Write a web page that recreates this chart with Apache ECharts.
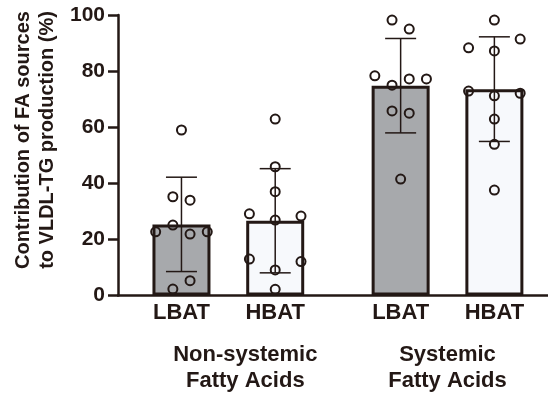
<!DOCTYPE html>
<html>
<head>
<meta charset="utf-8">
<script src="https://cdn.jsdelivr.net/npm/echarts@6/dist/echarts.min.js"></script>
<style>
  html, body { margin: 0; padding: 0; background: #ffffff; }
  #chart { width: 548px; height: 400px; }
</style>
</head>
<body>
<div id="chart"></div>
<script>
// ---------------- data ----------------
const categories = ['LBAT', 'HBAT', 'LBAT', 'HBAT'];
const groupNames = ['Non-systemic\nFatty Acids', 'Systemic\nFatty Acids'];
const groupOf = [0, 0, 1, 1];
const lbatNonSystemic = [59.0, 35.2, 34.0, 22.7, 25.1, 21.9, 22.7, 2.3, 5.3];
const hbatNonSystemic = [62.9, 45.9, 37.0, 29.1, 26.9, 28.3, 13.0, 9.1, 12.1, 2.2];
const lbatSystemic = [98.2, 95.0, 78.3, 75.0, 77.2, 77.2, 65.8, 65.0, 41.5];
const hbatSystemic = [98.2, 88.3, 87.2, 91.4, 72.9, 71.2, 72.1, 62.9, 53.9, 37.6];
const yTicks = [0, 20, 40, 60, 80, 100];
const yTitle = 'Contribution of FA sources\nto VLDL-TG production (%)';

// ---------------- layout / styles ----------------
const seriesValues = [lbatNonSystemic, hbatNonSystemic, lbatSystemic, hbatSystemic];
const fills = ['#a7a9ac', '#f7f9fc', '#a7a9ac', '#f7f9fc'];
const ink = '#231815';
const font = "'Liberation Sans', Arial, sans-serif";
const groupGap = 2.338;     // category units between the first bars of two groups
const slotPx = 8.6;         // horizontal slot for scattered points
const rowTol = 4.3;         // value tolerance for points sharing a row
const groupLabelShift = [17, 0];

const memberIdx = [];
{ const seen = {}; groupOf.forEach((g, i) => { seen[g] = (seen[g] || 0); memberIdx.push(seen[g]); seen[g]++; }); }
const pos = categories.map((c, i) => groupOf[i] * groupGap + memberIdx[i]);

function mean(a) { return a.reduce((s, v) => s + v, 0) / a.length; }
function sd(a) { const m = mean(a); return Math.sqrt(a.reduce((s, v) => s + (v - m) * (v - m), 0) / (a.length - 1)); }

const slotPatterns = { 1: [0], 2: [-1, 1], 3: [-3, 0, 3], 4: [-3, -1, 1, 3] };
function swarm(vals) {
  const order = vals.map((v, i) => i).sort((a, b) => vals[b] - vals[a]);
  const rows = [];
  order.forEach(i => {
    const r = rows[rows.length - 1];
    if (r && vals[r[0]] - vals[i] <= rowTol) r.push(i); else rows.push([i]);
  });
  const off = new Array(vals.length).fill(0);
  rows.forEach(r => {
    const byIdx = r.slice().sort((a, b) => a - b);
    const n = byIdx.length;
    const pat = slotPatterns[n] || byIdx.map((_, k) => (k - (n - 1) / 2) * 2);
    byIdx.forEach((idx, k) => { off[idx] = pat[k]; });
  });
  return off;
}

const barData = seriesValues.map((vals, i) => ({
  value: [pos[i], mean(vals)],
  itemStyle: { color: fills[i] }
}));
const errData = seriesValues.map((vals, i) => [pos[i], mean(vals) - sd(vals), mean(vals) + sd(vals)]);
const pointData = [];
seriesValues.forEach((vals, i) => {
  const off = swarm(vals);
  vals.forEach((v, k) => pointData.push({ value: [pos[i], v], symbolOffset: [off[k] * slotPx, 0] }));
});
const groupData = groupNames.map((g, gi) => {
  const p = pos.filter((_, i) => groupOf[i] === gi);
  return [(Math.min(...p) + Math.max(...p)) / 2, gi];
});

const chart = echarts.init(document.getElementById('chart'), null, { renderer: 'canvas' });
chart.setOption({
  animation: false,
  backgroundColor: '#ffffff',
  grid: { left: 118, right: 0, top: 15, bottom: 104.5, containLabel: false },
  xAxis: {
    type: 'value', min: -0.677, max: 3.91,
    axisLine: { show: true, onZero: false, lineStyle: { color: ink, width: 2.5 } },
    axisTick: { show: false }, axisLabel: { show: false }, splitLine: { show: false }
  },
  yAxis: {
    type: 'value', min: yTicks[0], max: yTicks[yTicks.length - 1], interval: yTicks[1] - yTicks[0],
    axisLine: { show: true, onZero: false, lineStyle: { color: ink, width: 2.5 } },
    axisTick: { show: true, inside: false, length: 10, lineStyle: { color: ink, width: 2.5 } },
    axisLabel: { color: ink, fontFamily: font, fontWeight: 'bold', fontSize: 21, margin: 13 },
    splitLine: { show: false }
  },
  graphic: [{
    type: 'text', x: 35, y: 140, rotation: Math.PI / 2,
    style: {
      text: yTitle, fill: ink, font: 'bold 20px ' + font,
      textAlign: 'center', textVerticalAlign: 'middle', lineHeight: 24
    }
  }],
  series: [
    {
      type: 'bar', data: barData, barWidth: 58, z: 2,
      itemStyle: { borderColor: ink, borderWidth: 3 },
      emphasis: { disabled: true }, silent: true
    },
    {
      type: 'custom', z: 3, silent: true, data: errData,
      renderItem: function (params, api) {
        const x = api.value(0);
        const lo = api.coord([x, api.value(1)]);
        const hi = api.coord([x, api.value(2)]);
        const cap = 15.5;
        const st = { stroke: ink, lineWidth: 1.5 };
        return {
          type: 'group', children: [
            { type: 'line', shape: { x1: lo[0], y1: lo[1], x2: hi[0], y2: hi[1] }, style: st },
            { type: 'line', shape: { x1: hi[0] - cap, y1: hi[1], x2: hi[0] + cap, y2: hi[1] }, style: st },
            { type: 'line', shape: { x1: lo[0] - cap, y1: lo[1], x2: lo[0] + cap, y2: lo[1] }, style: st }
          ]
        };
      }
    },
    {
      type: 'scatter', z: 4, silent: true, data: pointData,
      symbol: 'circle', symbolSize: 9,
      itemStyle: { color: 'rgba(0,0,0,0)', borderColor: ink, borderWidth: 2, opacity: 1 },
      emphasis: { disabled: true }
    },
    {
      type: 'custom', z: 5, silent: true, clip: false,
      data: categories.map((c, i) => [pos[i], i]),
      renderItem: function (params, api) {
        const p = api.coord([api.value(0), 0]);
        return {
          type: 'text', x: p[0], y: p[1] + 17,
          style: { text: categories[api.value(1)], fill: ink, font: 'bold 22px ' + font,
                   textAlign: 'center', textVerticalAlign: 'middle' }
        };
      }
    },
    {
      type: 'custom', z: 5, silent: true, clip: false,
      data: groupData,
      renderItem: function (params, api) {
        const gi = api.value(1);
        const p = api.coord([api.value(0), 0]);
        return {
          type: 'text', x: p[0] + groupLabelShift[gi], y: p[1] + 72.5,
          style: { text: groupNames[gi], fill: ink, font: 'bold 22px ' + font,
                   textAlign: 'center', textVerticalAlign: 'middle', lineHeight: 26 }
        };
      }
    }
  ]
});
</script>
</body>
</html>
